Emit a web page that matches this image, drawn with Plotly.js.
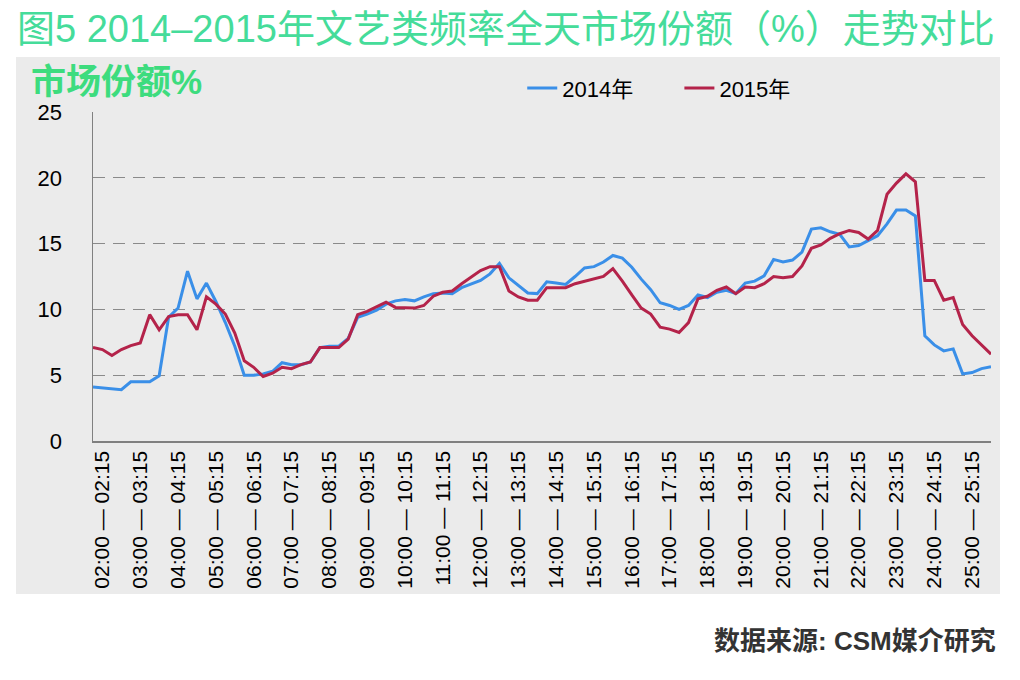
<!DOCTYPE html>
<html>
<head>
<meta charset="utf-8">
<script src="https://cdn.plot.ly/plotly-3.0.1.min.js"></script>
<style>
  html, body { margin: 0; padding: 0; background: #fff; }
  #chart { width: 1020px; height: 680px; }
</style>
</head>
<body>
<div id="chart"></div>
<script>
// quarter-hour share values, 02:00 to 26:00 (96 slots)
var share2014 = [
  4.1, 4.05, 3.95, 3.9, 4.5, 4.5, 4.5, 4.95, 9.4, 10.1,
  12.9, 10.8, 12.0, 10.6, 9.0, 7.2, 5.0, 5.0, 5.1, 5.3,
  5.95, 5.8, 5.8, 6.0, 7.1, 7.2, 7.2, 7.8, 9.4, 9.65,
  9.95, 10.4, 10.65, 10.75, 10.65, 10.95, 11.2, 11.25, 11.2, 11.65,
  11.9, 12.2, 12.7, 13.5, 12.4, 11.8, 11.25, 11.2, 12.1, 12.0,
  11.9, 12.5, 13.15, 13.25, 13.6, 14.1, 13.9, 13.2, 12.3, 11.5,
  10.5, 10.3, 10.0, 10.3, 11.1, 10.9, 11.3, 11.45, 11.2, 12.0,
  12.15, 12.55, 13.8, 13.6, 13.75, 14.35, 16.1, 16.2, 15.9, 15.7,
  14.75, 14.85, 15.25, 15.6, 16.5, 17.55, 17.55, 17.1, 8.0, 7.3,
  6.85, 7.0, 5.1, 5.2, 5.5, 5.65
];
var share2015 = [
  7.1, 6.95, 6.5, 6.95, 7.25, 7.45, 9.6, 8.45, 9.45, 9.6,
  9.6, 8.45, 10.95, 10.4, 9.65, 8.2, 6.1, 5.6, 4.9, 5.15,
  5.6, 5.5, 5.8, 6.0, 7.1, 7.1, 7.1, 7.75, 9.6, 9.85,
  10.2, 10.55, 10.15, 10.1, 10.1, 10.3, 11.0, 11.3, 11.4, 11.95,
  12.45, 12.95, 13.25, 13.25, 11.4, 10.95, 10.7, 10.7, 11.65, 11.65,
  11.65, 11.95, 12.15, 12.3, 12.5, 13.1, 12.15, 11.1, 10.1, 9.65,
  8.65, 8.5, 8.25, 9.0, 10.8, 11.0, 11.45, 11.7, 11.2, 11.7,
  11.65, 11.95, 12.5, 12.4, 12.5, 13.3, 14.65, 14.9, 15.4, 15.75,
  16.0, 15.85, 15.35, 16.0, 18.75, 19.6, 20.3, 19.7, 12.2, 12.2,
  10.7, 10.9, 8.85, 8.0, 7.3, 6.6
];
var hourLabels = [
  '02:00 — 02:15', '03:00 — 03:15', '04:00 — 04:15', '05:00 — 05:15',
  '06:00 — 06:15', '07:00 — 07:15', '08:00 — 08:15', '09:00 — 09:15',
  '10:00 — 10:15', '11:00 — 11:15', '12:00 — 12:15', '13:00 — 13:15',
  '14:00 — 14:15', '15:00 — 15:15', '16:00 — 16:15', '17:00 — 17:15',
  '18:00 — 18:15', '19:00 — 19:15', '20:00 — 20:15', '21:00 — 21:15',
  '22:00 — 22:15', '23:00 — 23:15', '24:00 — 24:15', '25:00 — 25:15'
];
var seriesNames = ['2014年', '2015年'];

function pad(n) { return (n < 10 ? '0' : '') + n; }

// slot names like "02:00-02:15"
var slots = [];
for (var i = 0; i < share2014.length; i++) {
  var h = 2 + Math.floor(i / 4), m = (i % 4) * 15;
  var h2 = 2 + Math.floor((i + 1) / 4), m2 = ((i + 1) % 4) * 15;
  slots.push(pad(h) + ':' + pad(m) + '-' + pad(h2) + ':' + pad(m2));
}
// hourly labels; excel draws them a little right of the first slot
var labelSlots = [], labelText = [];
for (var k = 0; k < hourLabels.length; k++) {
  labelSlots.push(slots[k * 4 + 1]);
  labelText.push(hourLabels[k]);
}

var fontFam = '"Liberation Sans", Arial, "Noto Sans CJK SC", sans-serif';

var data = [
  {
    x: slots, y: share2014, name: seriesNames[0],
    type: 'scatter', mode: 'lines',
    line: {color: '#3a8fe8', width: 3},
    legend: 'legend'
  },
  {
    x: slots, y: share2015, name: seriesNames[1],
    type: 'scatter', mode: 'lines',
    line: {color: '#b4234a', width: 3},
    legend: 'legend2'
  }
];

var legendBase = {
  orientation: 'h',
  xanchor: 'left',
  y: 1.072, yanchor: 'middle',
  bgcolor: 'rgba(0,0,0,0)',
  font: {size: 22, color: '#000'}
};

var layout = {
  width: 1020,
  height: 680,
  paper_bgcolor: '#ffffff',
  plot_bgcolor: 'rgba(0,0,0,0)',
  margin: {l: 93, r: 29, t: 112, b: 239, pad: 0},
  font: {family: fontFam, size: 18, color: '#000'},
  showlegend: true,
  legend: Object.assign({x: 0.478}, legendBase),
  legend2: Object.assign({x: 0.653}, legendBase),
  title: {
    text: '图5 2014–2015年文艺类频率全天市场份额（%）走势对比',
    xref: 'container', yref: 'container',
    x: 17 / 1020, xanchor: 'left',
    y: 1 - 29 / 680, yanchor: 'middle',
    font: {family: fontFam, size: 38, color: '#45dc9a'}
  },
  xaxis: {
    type: 'category',
    tickmode: 'array',
    tickvals: labelSlots,
    ticktext: labelText,
    ticks: '',
    tickangle: -90,
    tickfont: {size: 21, color: '#000'},
    showline: true,
    linecolor: '#808080',
    linewidth: 1.5,
    showgrid: false,
    zeroline: false,
    fixedrange: true
  },
  // tick marks on slot boundaries
  xaxis2: {
    overlaying: 'x',
    anchor: 'y',
    side: 'bottom',
    range: [0, slots.length],
    tickmode: 'linear',
    tick0: 0,
    dtick: 1,
    ticks: 'outside',
    ticklen: 6,
    tickcolor: '#808080',
    tickwidth: 1,
    showticklabels: false,
    showline: false,
    showgrid: false,
    zeroline: false,
    fixedrange: true
  },
  yaxis: {
    range: [0, 25],
    tickmode: 'linear',
    tick0: 0,
    dtick: 5,
    // invisible long ticks push the labels out to where excel had them
    ticks: 'outside',
    ticklen: 25,
    tickcolor: 'rgba(0,0,0,0)',
    tickfont: {size: 22, color: '#000'},
    showline: true,
    linecolor: '#808080',
    linewidth: 1.5,
    showgrid: true,
    gridcolor: '#8a8a8a',
    gridwidth: 1,
    griddash: '12px,8px',
    zeroline: false,
    fixedrange: true
  },
  yaxis2: {
    overlaying: 'y',
    anchor: 'x',
    side: 'left',
    range: [0, 25],
    tickmode: 'linear',
    tick0: 0,
    dtick: 5,
    ticks: 'outside',
    ticklen: 5,
    tickcolor: '#808080',
    showticklabels: false,
    showline: false,
    showgrid: false,
    zeroline: false,
    fixedrange: true
  },
  shapes: [
    {
      type: 'rect', layer: 'below',
      xref: 'paper', yref: 'paper',
      x0: (16 - 93) / 898, x1: (1000 - 93) / 898,
      y0: (441 - 594) / 329, y1: (441 - 57) / 329,
      fillcolor: '#ebebeb', line: {width: 0}
    }
  ],
  annotations: [
    {
      text: '<b>市场份额%</b>',
      xref: 'paper', yref: 'paper',
      x: (29 - 93) / 898, xanchor: 'left',
      y: (441 - 81) / 329, yanchor: 'middle',
      showarrow: false,
      font: {family: fontFam, size: 35, color: '#3ddc7e'}
    },
    {
      text: '<b>数据来源: CSM媒介研究</b>',
      xref: 'paper', yref: 'paper',
      x: (998 - 93) / 898, xanchor: 'right',
      y: (441 - 641) / 329, yanchor: 'middle',
      showarrow: false,
      font: {family: fontFam, size: 26, color: '#333'}
    }
  ]
};

var config = {displayModeBar: false, displaylogo: false, staticPlot: true};

Plotly.newPlot('chart', data, layout, config);
</script>
</body>
</html>
